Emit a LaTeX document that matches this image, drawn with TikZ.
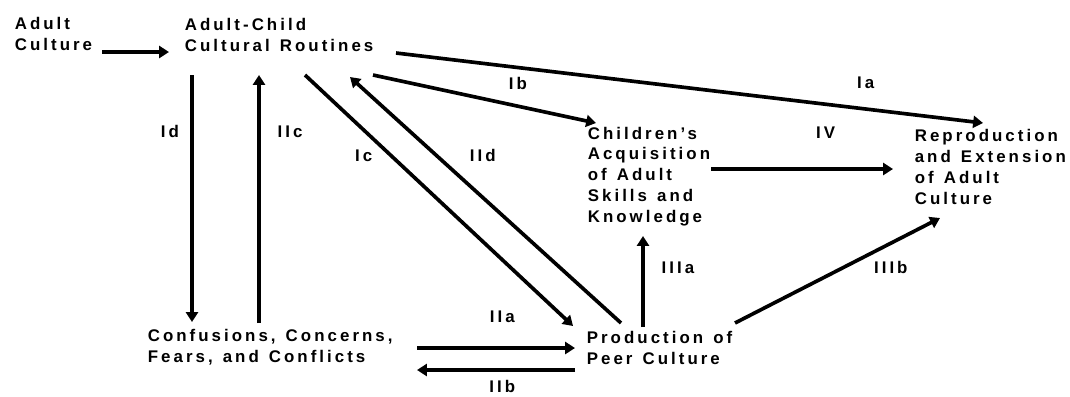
\documentclass[tikz,border=0pt]{standalone}
\usepackage{fontspec}
\setmainfont{Liberation Sans}[UprightFont=* Bold, LetterSpace=18, WordSpace=1.3]
\usetikzlibrary{arrows.meta}

\begin{document}
\begin{tikzpicture}[
    x=0.025cm, y=-0.025cm,  % one unit = one pixel of the scanned figure
    ->,                     % arrow tip on every connector
    >={Triangle[length=7pt,width=8.5pt]}, % heavy filled tip
    line width=2.6pt,       % thick print lines
    box/.style={anchor=base west, align=left, inner sep=0pt,
                font=\fontsize{12}{14.7}\selectfont},
    lbl/.style={inner sep=0pt, font=\fontsize{12}{13}\selectfont}
  ]
  \useasboundingbox (0,0) rectangle (1070,396);

  % --- BLOCKS (placed at the baseline of their last line) ---
  \node[box] (adult)    at (13,50)   {Adult\\Culture};
  \node[box] (routines) at (183,51)  {Adult-Child\\Cultural Routines};
  \node[box] (acq)      at (586,222) {Children's\\Acquisition\\of Adult\\Skills and\\Knowledge};
  \node[box] (repro)    at (913,204) {Reproduction\\and Extension\\of Adult\\Culture};
  \node[box] (confus)   at (146,362) {Confusions, Concerns,\\Fears, and Conflicts};
  \node[box] (peer)     at (585,364) {Production of\\Peer Culture};

  % --- CONNECTORS ---

  % From adult culture
  \path ([shift={(89,2)}]adult.base west) edge ([shift={(-14,1)}]routines.base west);

  % From the routines
  \path ([shift={(213,2)}]routines.base west)
          edge node[lbl, pos=0.8, shift={(0,-26)}] {Ia} ([shift={(70,-81)}]repro.base west);
  \path ([shift={(190,24)}]routines.base west)
          edge node[lbl, pos=0.65, shift={(0,-23)}] {Ib} ([shift={(10,-99)}]acq.base west);
  \path ([shift={(9,24)}]routines.base west)
          edge node[lbl, pos=0.23, shift={(-22,0)}] {Id} ([shift={(46,-40)}]confus.base west);
  \path ([shift={(122,24)}]routines.base west)
          edge node[lbl, pos=0.32, shift={(-27,0)}] {Ic} ([shift={(-12,-38)}]peer.base west);

  % From confusions
  \path ([shift={(113,-39)}]confus.base west)
          edge node[lbl, pos=0.77, shift={(31,0)}] {IIc} ([shift={(76,24)}]routines.base west);
  \path ([shift={(271,-14)}]confus.base west)
          edge node[lbl, pos=0.54, shift={(0,-31)}] {IIa} ([shift={(-10,-16)}]peer.base west);

  % From peer culture
  \path ([shift={(36,-41)}]peer.base west)
          edge node[lbl, pos=0.68, shift={(46,0)}] {IId} ([shift={(167,26)}]routines.base west);
  \path ([shift={(-10,6)}]peer.base west)
          edge node[lbl, pos=0.46, shift={(0,16)}] {IIb} ([shift={(271,8)}]confus.base west);
  \path ([shift={(58,-37)}]peer.base west)
          edge node[lbl, pos=0.65, shift={(35,0)}] {IIIa} ([shift={(57,14)}]acq.base west);
  \path ([shift={(150,-41)}]peer.base west)
          edge node[lbl, pos=0.76, shift={(0,24)}] {IIIb} ([shift={(27,14)}]repro.base west);

  % From acquisition
  \path ([shift={(125,-53)}]acq.base west)
          edge node[lbl, pos=0.63, shift={(0,-36)}] {IV} ([shift={(-20,-35)}]repro.base west);

\end{tikzpicture}
\end{document}
